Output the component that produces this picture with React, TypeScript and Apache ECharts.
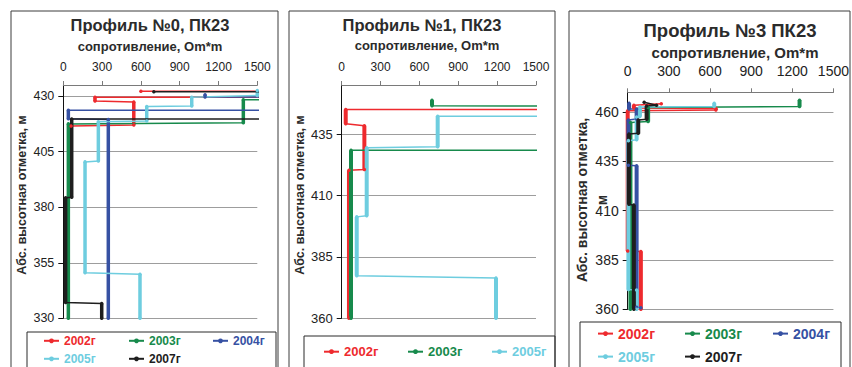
import React, { useEffect, useRef } from 'react';
import * as echarts from 'echarts';

const FONT = '"Liberation Sans", Arial, sans-serif';

const years = ['2002г', '2003г', '2004г', '2005г', '2007г'];
const yearColors = ['#EE2A2E', '#178A4C', '#3651A3', '#6ECDDF', '#1E1E1E'];

const xTicks = { min: 0, max: 1500, interval: 300 };

// Профиль №0
const p0_2002 = [[600, 432.2], [1700, 432.2], [1700, 429.5], [245, 429.5], [245, 427.8], [545, 427.3], [545, 417], [60, 416.5]];
const p0_2003 = [[1700, 428.4], [1392, 428.4], [1392, 418], [39, 417.5], [39, 330]];
const p0_2004 = [[1096, 430.6], [1096, 429.6], [1700, 429.6], [1700, 423.6], [39, 423.6], [39, 419.8], [348, 419.5], [348, 330]];
const p0_2005 = [[1500, 432.5], [1500, 430.3], [993, 429.5], [993, 425.6], [645, 425.3], [645, 418.8], [271, 418.5], [271, 400.8], [168, 400.4], [168, 350.5], [593, 349.8], [593, 330]];
const p0_2007 = [[700, 432], [1700, 432], [1700, 419.7], [65, 419.7], [65, 384.5], [18, 384.3], [18, 337.1], [297, 336.7], [297, 330]];

// Профиль №1
const p1_2002 = [[1700, 445], [31, 445], [31, 439.2], [175, 438.4], [175, 420.6], [56, 420.3], [56, 360]];
const p1_2003 = [[697, 448.8], [697, 446.6], [1700, 446.4], [1700, 428.4], [72, 428.4], [72, 360]];
const p1_2005 = [[1700, 442.3], [741, 442.3], [741, 429.9], [193, 429.4], [193, 401.8], [116, 401.3], [116, 377.3], [1191, 376.4], [1191, 360]];

// Профиль №3
const p3_2002 = [[245, 464.2], [45, 463.4], [45, 462], [643, 461.8], [643, 461], [0, 460.6], [0, 389.5], [96, 389.3], [96, 360]];
const p3_2003 = [[1253, 466], [1253, 462.8], [149, 462.3], [149, 455.2], [20, 454.7], [20, 360]];
const p3_2004 = [[10, 464.5], [10, 461.5], [65, 461.5], [65, 456.5], [5, 456], [5, 433], [65, 432.8], [65, 361], [96, 360.8]];
const p3_2005 = [[631, 464.5], [631, 462.8], [89, 462.5], [89, 457.8], [65, 457.5], [65, 446], [5, 445.5], [5, 370], [65, 369.8], [65, 360]];
const p3_2007 = [[120, 465], [210, 463.4], [138, 463], [138, 456.3], [77, 456], [77, 449.2], [9, 448.8], [9, 413.2], [45, 412.8], [45, 360]];

const panelTitles = ['Профиль №0, ПК23', 'Профиль №1, ПК23', 'Профиль №3 ПК23'];
const xTitle = 'сопротивление, Om*m';
const yTitle = 'Абс. высотная отметка, м';

const panels = [
  {
    grid: { left: 63.3, top: 85, width: 194, height: 233.3 },
    y: [330, 435],
    series: [p0_2002, p0_2003, p0_2004, p0_2005, p0_2007],
    yearIdx: [0, 1, 2, 3, 4],
    titleX: 150, titleY: 25, titleSize: 16.5,
    subX: 150, subY: 46, subSize: 13,
    tickSize: 12, tickMargin: 12, yLabelSize: 12.5,
    thick: 3.5,
    legendPos: [[43, 342], [128, 342], [212, 342], [43, 360], [128, 360]],
    legendSize: 12,
    border: { x: 11, y: 11, width: 267, height: 380 },
    legendBox: { x: 27, y: 332, width: 249, height: 60 },
  },
  {
    grid: { left: 341.7, top: 85, width: 194.3, height: 233.3 },
    y: [360, 455],
    series: [p1_2002, p1_2003, p1_2005],
    yearIdx: [0, 1, 3],
    titleX: 422, titleY: 25, titleSize: 16.5,
    subX: 427, subY: 45, subSize: 13,
    tickSize: 12, tickMargin: 12, yLabelSize: 13,
    thick: 4,
    legendPos: [[323, 353], [407, 353], [491, 353]],
    legendSize: 13,
    border: { x: 289, y: 11, width: 266, height: 380 },
    legendBox: { x: 304, y: 336, width: 251, height: 60 },
  },
  {
    grid: { left: 627.7, top: 92.3, width: 207.3, height: 217 },
    y: [360, 470],
    series: [p3_2002, p3_2003, p3_2004, p3_2005, p3_2007],
    yearIdx: [0, 1, 2, 3, 4],
    titleX: 730, titleY: 30, titleSize: 18.5,
    subX: 735, subY: 52, subSize: 15,
    tickSize: 14, tickMargin: 14, yLabelSize: 14,
    thick: 4,
    legendPos: [[597, 335], [684, 335], [772, 335], [597, 358], [684, 358]],
    legendSize: 14,
    border: { x: 569, y: 11, width: 281, height: 380 },
    legendBox: { x: 580, y: 322, width: 261, height: 70 },
  },
];

function verticals(d: number[][]) {
  const out: any[] = [];
  for (let i = 0; i < d.length - 1; i++) {
    if (d[i][0] === d[i + 1][0]) {
      out.push(d[i], d[i + 1], ['-', '-']);
    }
  }
  return out;
}

function buildOption() {
  const grid: any[] = [];
  const xAxis: any[] = [];
  const yAxis: any[] = [];
  const series: any[] = [];
  const legend: any[] = [];
  const graphic: any[] = [];

  panels.forEach((p, pi) => {
    grid.push({ ...p.grid, containLabel: false });
    xAxis.push({
      type: 'value', gridIndex: pi, position: 'top',
      min: xTicks.min, max: xTicks.max, interval: xTicks.interval,
      axisLine: { show: true, onZero: false, lineStyle: { color: '#7a7a7a', width: 1 } },
      axisTick: { show: true, inside: false, length: 4, lineStyle: { color: '#7a7a7a' } },
      axisLabel: {
        fontSize: p.tickSize, fontFamily: FONT, color: '#222', margin: p.tickMargin,
        formatter: (v: number) => String(v),
      },
      splitLine: { show: false },
    });
    yAxis.push({
      type: 'value', gridIndex: pi,
      min: p.y[0], max: p.y[1], interval: 25,
      axisLine: { show: true, onZero: false, lineStyle: { color: '#111', width: 1 } },
      axisTick: { show: true, inside: false, length: 5, lineStyle: { color: '#111' } },
      axisLabel: {
        fontSize: p.yLabelSize, fontFamily: FONT, color: '#222', margin: 9, showMaxLabel: false,
        formatter: (v: number) => String(v),
      },
      splitLine: { show: true, lineStyle: { color: '#9d9d9d', width: 1 } },
    });

    p.series.forEach((d, si) => {
      const yi = p.yearIdx[si];
      const color = yearColors[yi];
      series.push({
        type: 'line', name: years[yi], xAxisIndex: pi, yAxisIndex: pi,
        data: d, color, symbol: 'circle', symbolSize: 3.5, showSymbol: true,
        lineStyle: { width: 1.5, color }, itemStyle: { color },
        clip: true, animation: false, z: 3,
      });
      series.push({
        type: 'line', name: years[yi] + ' v', xAxisIndex: pi, yAxisIndex: pi,
        data: verticals(d), color, showSymbol: false, symbol: 'none',
        connectNulls: false,
        lineStyle: { width: p.thick, color, cap: 'butt' },
        clip: true, animation: false, z: 3,
      });
    });

    p.yearIdx.forEach((yi, k) => {
      const [lx, ly] = p.legendPos[k];
      legend.push({
        show: true, selectedMode: false, padding: 0,
        left: lx, top: ly - p.legendSize * 0.6,
        itemWidth: 15, itemHeight: 6, itemGap: 0,
        data: [{ name: years[yi], textStyle: { color: yearColors[yi] } }],
        textStyle: { fontWeight: 'bold', fontSize: p.legendSize, fontFamily: FONT, color: yearColors[yi] },
      });
    });

    graphic.push({
      type: 'rect', shape: { ...p.border }, silent: true, z: 0,
      style: { fill: 'none', stroke: '#3c3c3c', lineWidth: 1 },
    });
    graphic.push({
      type: 'rect', shape: { ...p.legendBox }, silent: true, z: 0,
      style: { fill: 'none', stroke: '#2a2a2a', lineWidth: 1 },
    });
    graphic.push({
      type: 'text', x: p.titleX, y: p.titleY, silent: true,
      style: {
        text: panelTitles[pi], fill: '#2b2b2b', fontSize: p.titleSize, fontWeight: 'bold', fontFamily: FONT,
        align: 'center', verticalAlign: 'middle', textAlign: 'center', textVerticalAlign: 'middle',
      },
    });
    graphic.push({
      type: 'text', x: p.subX, y: p.subY, silent: true,
      style: {
        text: xTitle, fill: '#2b2b2b', fontSize: p.subSize, fontWeight: 'bold', fontFamily: FONT,
        align: 'center', verticalAlign: 'middle', textAlign: 'center', textVerticalAlign: 'middle',
      },
    });
  });

  // y-axis titles
  const yt = [
    { x: 22, y: 195, text: yTitle, size: 12.5 },
    { x: 300, y: 195, text: yTitle, size: 12.5 },
    { x: 582, y: 200, text: 'Абс. высотная отметка,', size: 14 },
    { x: 602, y: 200, text: 'м', size: 14 },
  ];
  yt.forEach((t) => {
    graphic.push({
      type: 'text', x: t.x, y: t.y, rotation: Math.PI / 2, silent: true,
      style: {
        text: t.text, fill: '#2b2b2b', fontSize: t.size, fontWeight: 'bold', fontFamily: FONT,
        align: 'center', verticalAlign: 'middle', textAlign: 'center', textVerticalAlign: 'middle',
      },
    });
  });

  return {
    animation: false,
    backgroundColor: '#ffffff',
    textStyle: { fontFamily: FONT },
    grid, xAxis, yAxis, series, legend, graphic,
  };
}

export default function App() {
  const ref = useRef<HTMLDivElement>(null);
  useEffect(() => {
    if (!ref.current) return;
    const chart = echarts.init(ref.current, undefined, { renderer: 'svg' });
    chart.setOption(buildOption() as any);
    return () => chart.dispose();
  }, []);
  return (
    <div
      ref={ref}
      style={{ position: 'fixed', left: 0, top: 0, width: 852, height: 367, background: '#fff' }}
    />
  );
}
